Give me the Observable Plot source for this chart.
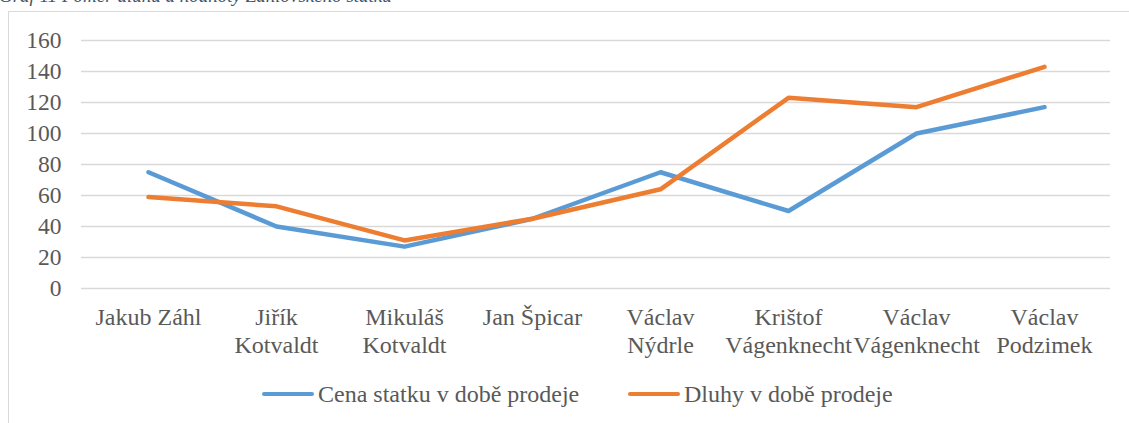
<!DOCTYPE html>
<html>
<head>
<meta charset="utf-8">
<script src="https://cdn.jsdelivr.net/npm/d3@7"></script>
<script src="https://cdn.jsdelivr.net/npm/@observablehq/plot@0.6"></script>
<style>
  html, body { margin: 0; padding: 0; background: #fff; }
  #wrap { position: relative; width: 1129px; height: 423px; overflow: hidden; font-family: "Liberation Serif", Tinos, "Times New Roman", Times, "Nimbus Roman", "DejaVu Serif", serif; }
  #title { position: absolute; left: -1px; top: -15px; font-size: 19px; font-style: italic; color: #44546a; white-space: nowrap; }
  #frame { position: absolute; left: 8px; top: 11px; width: 1300px; height: 600px; border: 1.3px solid #d9d9d9; box-sizing: border-box; }
  #chart { position: absolute; left: 0; top: 0; }
  #legend { position: absolute; top: 379px; left: 0; width: 1129px; height: 30px; }
  .item { position: absolute; top: 0; display: flex; align-items: center; font-size: 24px; color: #595959; white-space: nowrap; height: 30px; }
  .swatch { width: 52px; height: 4.5px; border-radius: 3px; margin-right: 4px; }
  #chart svg text { font-family: "Liberation Serif", Tinos, "Times New Roman", Times, "Nimbus Roman", "DejaVu Serif", serif; }
</style>
</head>
<body>
<div id="wrap">
  <div id="title">Graf 11 Poměr dluhu a hodnoty Záhlovského statku</div>
  <div id="frame"></div>
  <div id="chart"></div>
  <div id="legend"></div>
</div>
<script>
const categories = ["Jakub Záhl", "Jiřík\nKotvaldt", "Mikuláš\nKotvaldt", "Jan Špicar", "Václav\nNýdrle", "Krištof\nVágenknecht", "Václav\nVágenknecht", "Václav\nPodzimek"];
const cena = [75, 40, 27, 45, 75, 50, 100, 117];
const dluhy = [59, 53, 31, 45, 64, 123, 117, 143];
const seriesNames = ["Cena statku v době prodeje", "Dluhy v době prodeje"];
const colors = ["#5b9bd5", "#ed7d31"];
const yTicks = [0, 20, 40, 60, 80, 100, 120, 140, 160];

const rows = [];
categories.forEach((c, i) => {
  rows.push({cat: c, value: cena[i], series: seriesNames[0]});
  rows.push({cat: c, value: dluhy[i], series: seriesNames[1]});
});

const serif = "'Liberation Serif', Tinos, 'Times New Roman', Times, 'Nimbus Roman', 'DejaVu Serif', serif";
const chart = Plot.plot({
  width: 1129,
  height: 423,
  marginLeft: 81,
  marginRight: 19,
  marginTop: 40,
  marginBottom: 135,
  style: { fontFamily: serif, fontSize: "24px", color: "#595959", background: "transparent", overflow: "visible" },
  x: { type: "point", domain: categories, padding: 0.5 },
  y: { domain: [0, 160] },
  color: { domain: seriesNames, range: colors },
  marks: [
    Plot.gridY(yTicks, { stroke: "#d9d9d9", strokeOpacity: 1, strokeWidth: 1.3 }),
    Plot.axisY(yTicks, { tickSize: 0, tickPadding: 20, label: null, fill: "#595959", fontSize: 23.5 }),
    Plot.axisX({ tickSize: 0, tickPadding: 17, label: null, fill: "#595959", fontSize: 24, lineHeight: 1.15 }),
    Plot.line(rows, { x: "cat", y: "value", z: "series", stroke: "series", strokeWidth: 4.5, strokeLinecap: "round", strokeLinejoin: "round" })
  ]
});
document.getElementById("chart").appendChild(chart);

const legend = document.getElementById("legend");
const lefts = [262, 628];
seriesNames.forEach((s, i) => {
  const item = document.createElement("div");
  item.className = "item";
  item.style.left = lefts[i] + "px";
  const sw = document.createElement("div");
  sw.className = "swatch";
  sw.style.background = colors[i];
  const t = document.createElement("span");
  t.textContent = s;
  item.appendChild(sw);
  item.appendChild(t);
  legend.appendChild(item);
});
</script>
</body>
</html>
